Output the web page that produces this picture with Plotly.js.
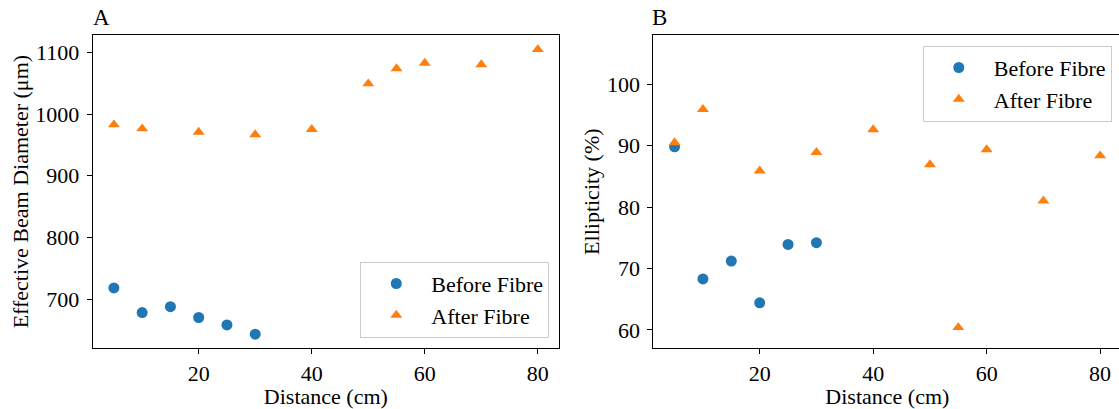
<!DOCTYPE html>
<html>
<head>
<meta charset="utf-8">
<script src="https://cdn.plot.ly/plotly-3.0.1.min.js"></script>
<style>
html, body { margin: 0; padding: 0; overflow: hidden; background: #fff; }
#chart { width: 1122px; height: 409px; }
</style>
</head>
<body>
<div id="chart"></div>
<script>
// Panel A: effective beam diameter (µm)
const distBefore = [5, 10, 15, 20, 25, 30];
const diamBefore = [718, 678, 687.5, 670, 658, 643];
const distAfter = [5, 10, 20, 30, 40, 50, 55, 60, 70, 80];
const diamAfter = [983, 976.5, 971, 967, 975.5, 1049.5, 1074, 1083, 1080.5, 1105];

// Panel B: ellipticity (%)
const ellBefore = [89.8, 68.3, 71.2, 64.4, 73.9, 74.2];
const ellAfter = [90.5, 95.9, 85.9, 88.9, 92.6, 86.9, 60.4, 89.35, 81.0, 88.35];

const seriesNames = ["Before Fibre", "After Fibre"];
const xTicks = [20, 40, 60, 80];
const yTicksA = [700, 800, 900, 1000, 1100];
const yTicksB = [60, 70, 80, 90, 100];

const W = 1122, H = 409;
const FONT = "Liberation Serif";
const blue = "#1f77b4", orange = "#ff7f0e";

const circ = {symbol: "circle", size: 11, color: blue};
const tri = {symbol: "triangle-up", size: 10.5, color: orange};

const traces = [
  {x: distBefore, y: diamBefore, type: "scatter", mode: "markers", name: seriesNames[0], marker: circ, xaxis: "x", yaxis: "y", legend: "legend"},
  {x: distAfter, y: diamAfter, type: "scatter", mode: "markers", name: seriesNames[1], marker: tri, xaxis: "x", yaxis: "y", legend: "legend"},
  {x: distBefore, y: ellBefore, type: "scatter", mode: "markers", name: seriesNames[0], marker: circ, xaxis: "x2", yaxis: "y2", legend: "legend2"},
  {x: distAfter, y: ellAfter, type: "scatter", mode: "markers", name: seriesNames[1], marker: tri, xaxis: "x2", yaxis: "y2", legend: "legend2"}
];

function axBase() {
  return {
    showline: true, mirror: true, linecolor: "black", linewidth: 1,
    ticks: "outside", ticklen: 5, tickwidth: 1, tickcolor: "black",
    showgrid: false, zeroline: false,
    tickfont: {family: FONT, size: 22, color: "black"}
  };
}
const yDom = [1 - 348.3 / H, 1 - 35 / H];
const titleFont = () => ({family: FONT, size: 22, color: "black"});

function legBase() {
  return {
    font: {family: FONT, size: 22, color: "black"},
    bgcolor: "rgba(255,255,255,0.8)", bordercolor: "#cccccc", borderwidth: 1,
    itemwidth: 60, tracegroupgap: 0
  };
}

const layout = {
  width: W, height: H,
  margin: {l: 0, r: 0, t: 0, b: 0},
  paper_bgcolor: "white", plot_bgcolor: "white",
  font: {family: FONT, size: 22, color: "black"},
  xaxis: Object.assign(axBase(), {domain: [92.7 / W, 559 / W], range: [1.25, 83.75], tickvals: xTicks, anchor: "y",
    title: {text: "Distance (cm)", font: titleFont()}}),
  yaxis: Object.assign(axBase(), {domain: yDom, range: [620, 1128.5], tickvals: yTicksA, anchor: "x", ticklabelstandoff: 3,
    title: {text: "Effective Beam Diameter (μm)", font: titleFont()}}),
  xaxis2: Object.assign(axBase(), {domain: [653.3 / W, 1121.4 / W], range: [1.25, 83.75], tickvals: xTicks, anchor: "y2",
    title: {text: "Distance (cm)", font: titleFont()}}),
  yaxis2: Object.assign(axBase(), {domain: yDom, range: [57.0, 108.0], tickvals: yTicksB, anchor: "x2", ticklabelstandoff: 3,
    title: {text: "Ellipticity (%)", font: titleFont()}}),
  legend: Object.assign(legBase(), {x: 549.3 / W, xanchor: "right", y: 1 - 337.7 / H, yanchor: "bottom"}),
  legend2: Object.assign(legBase(), {x: 1111.8 / W, xanchor: "right", y: 1 - 45.7 / H, yanchor: "top"}),
  annotations: [
    {text: "A", xref: "paper", yref: "paper", x: 90.5 / W, y: 1 - 18 / H, xanchor: "left", yanchor: "middle", showarrow: false, font: {family: FONT, size: 23, color: "black"}},
    {text: "B", xref: "paper", yref: "paper", x: 650.5 / W, y: 1 - 18 / H, xanchor: "left", yanchor: "middle", showarrow: false, font: {family: FONT, size: 23, color: "black"}}
  ],
  showlegend: true
};

Plotly.newPlot("chart", traces, layout, {displayModeBar: false, staticPlot: true});
</script>
</body>
</html>
